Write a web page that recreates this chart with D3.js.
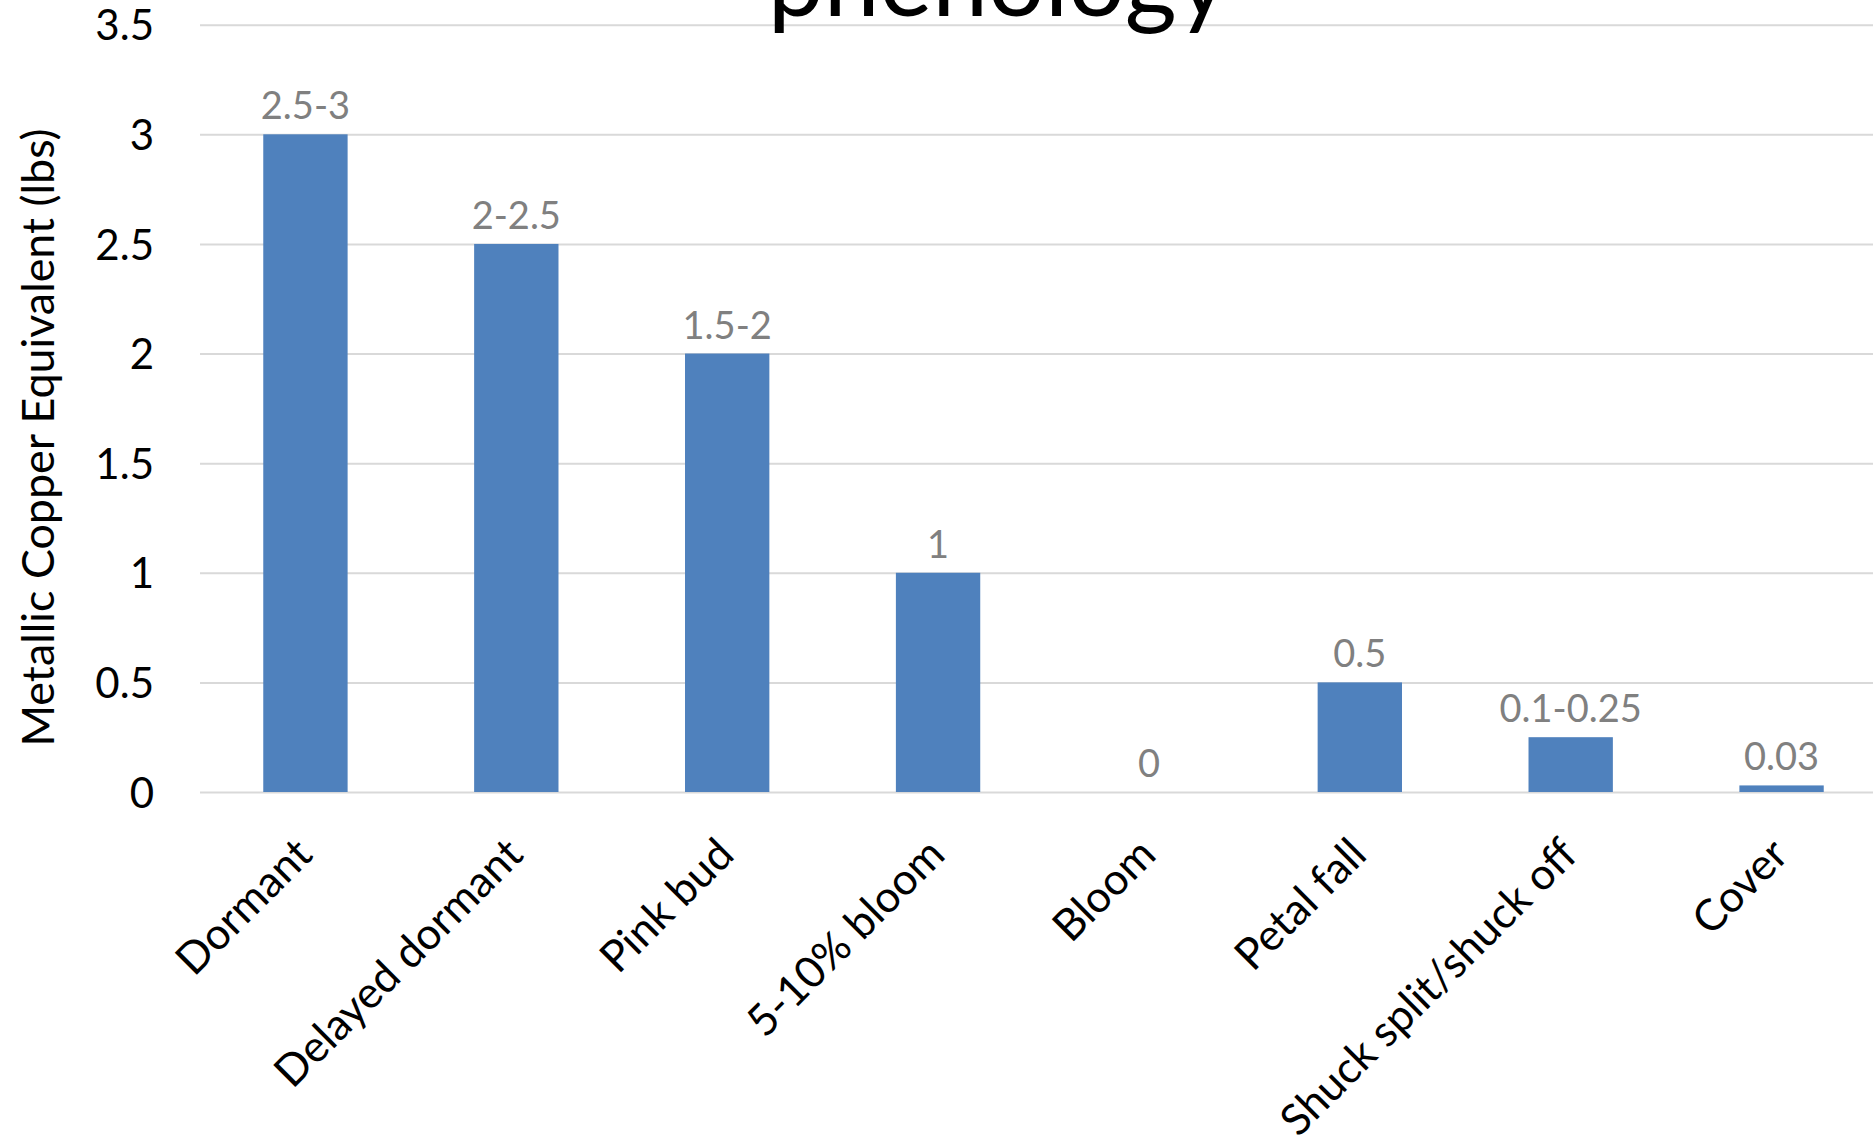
<!DOCTYPE html>
<html>
<head>
<meta charset="utf-8">
<script src="https://cdn.jsdelivr.net/npm/d3@7"></script>
<style>
  html, body { margin: 0; padding: 0; background: #ffffff; overflow: hidden; }
  svg { display: block; }
  text { font-family: Lato, "Open Sans", sans-serif; }
</style>
</head>
<body>
<svg id="chart" width="1873" height="1140"></svg>
<script>
// ---- data ----
const categories = ["Dormant", "Delayed dormant", "Pink bud", "5-10% bloom", "Bloom", "Petal fall", "Shuck split/shuck off", "Cover"];
const values = [3, 2.5, 2, 1, 0, 0.5, 0.25, 0.03];
const valueLabels = ["2.5-3", "2-2.5", "1.5-2", "1", "0", "0.5", "0.1-0.25", "0.03"];
const yTicks = [0, 0.5, 1, 1.5, 2, 2.5, 3, 3.5];
const yTickLabels = ["0", "0.5", "1", "1.5", "2", "2.5", "3", "3.5"];
const titleText = "phenology";
const yAxisTitle = "Metallic Copper Equivalent (lbs)";

// ---- layout ----
const W = 1873, H = 1140;
const plot = { left: 200, right: 1887, top: 24.7, bottom: 792 };

const svg = d3.select("#chart");

const x = d3.scaleBand()
  .domain(categories)
  .range([plot.left, plot.right])
  .paddingInner(0.6)
  .paddingOuter(0.3);

const y = d3.scaleLinear()
  .domain([0, 3.5])
  .range([plot.bottom, plot.top]);

// gridlines
const grid = d3.axisLeft(y)
  .tickValues(yTicks)
  .tickSize(-(plot.right - plot.left))
  .tickFormat("");
const gridG = svg.append("g")
  .attr("transform", `translate(${plot.left},0)`)
  .call(grid);
gridG.select(".domain").remove();
gridG.selectAll(".tick line").attr("stroke", "#d9d9d9").attr("stroke-width", 2);

// y tick labels
const yAxis = d3.axisLeft(y)
  .tickValues(yTicks)
  .tickSize(0)
  .tickPadding(0)
  .tickFormat((d, i) => yTickLabels[i]);
const yG = svg.append("g")
  .attr("transform", `translate(154,0)`)
  .call(yAxis);
yG.select(".domain").remove();
yG.selectAll(".tick text")
  .attr("font-family", "Lato, sans-serif")
  .attr("font-size", 42)
  .attr("fill", "#000000")
  .attr("dy", "0.36em");

// bars
svg.append("g").selectAll("rect")
  .data(values)
  .join("rect")
  .attr("x", (d, i) => x(categories[i]))
  .attr("width", x.bandwidth())
  .attr("y", d => y(d))
  .attr("height", d => y(0) - y(d))
  .attr("fill", "#4f81bd");

// value labels
svg.append("g").selectAll("text")
  .data(values)
  .join("text")
  .attr("x", (d, i) => x(categories[i]) + x.bandwidth() / 2)
  .attr("y", d => y(d) - 15)
  .attr("text-anchor", "middle")
  .attr("font-size", 38)
  .attr("fill", "#808080")
  .text((d, i) => valueLabels[i]);

// x axis labels
const xAxis = d3.axisBottom(x).tickSize(0).tickPadding(0);
const xG = svg.append("g")
  .attr("transform", `translate(0,${plot.bottom})`)
  .call(xAxis);
xG.select(".domain").remove();
xG.selectAll(".tick text")
  .attr("font-family", "Lato, sans-serif")
  .attr("font-size", 43.5)
  .attr("fill", "#000000")
  .attr("text-anchor", "end")
  .attr("dy", null)
  .attr("y", null)
  .attr("transform", "translate(9,65) rotate(-45)");

// y axis title
svg.append("text")
  .attr("transform", `translate(54,437.5) rotate(-90)`)
  .attr("text-anchor", "middle")
  .attr("font-size", 44.8)
  .attr("fill", "#000000")
  .text(yAxisTitle);

// chart title (only its last line is visible in the frame)
svg.append("text")
  .attr("x", 998)
  .attr("y", 16)
  .attr("text-anchor", "middle")
  .attr("font-size", 100)
  .attr("fill", "#000000")
  .text(titleText);
</script>
</body>
</html>
